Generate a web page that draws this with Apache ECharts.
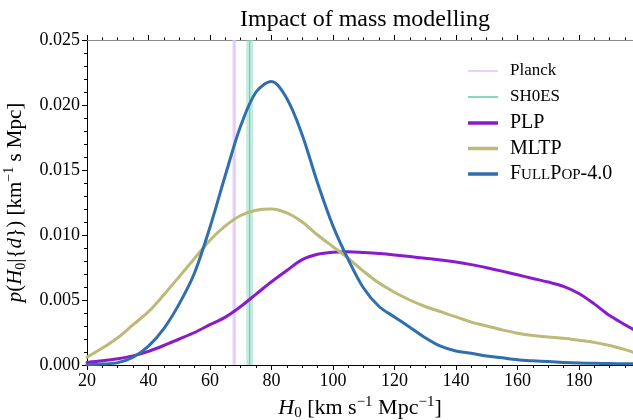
<!DOCTYPE html>
<html>
<head>
<meta charset="utf-8">
<script src="https://cdn.jsdelivr.net/npm/echarts@6/dist/echarts.min.js"></script>
<style>
  html, body { margin: 0; padding: 0; background: #ffffff; }
  #chart { width: 633px; height: 420px; }
</style>
</head>
<body>
<div id="chart"></div>
<script>
// H0 grid (km s^-1 Mpc^-1) on which the posteriors are sampled
const h0Values = [20, 25, 30, 35, 40, 45, 50, 55, 60, 65, 70, 75, 80, 85, 90, 95, 100,
  105, 110, 115, 120, 125, 130, 135, 140, 145, 150, 155, 160, 165, 170, 175, 180,
  185, 190, 195, 198];

// Posterior densities p(H0 | {d})
const plpPosterior = [0.0002, 0.00032, 0.00048, 0.0007, 0.00105, 0.0015, 0.0020, 0.0025,
  0.0031, 0.00368, 0.0045, 0.00545, 0.0064, 0.00727, 0.0081, 0.00852, 0.00868,
  0.00872, 0.00866, 0.00858, 0.00847, 0.00834, 0.00821, 0.00808, 0.00792, 0.00772, 0.00748,
  0.00722, 0.00694, 0.00666, 0.00638, 0.00605, 0.0055, 0.0047, 0.0038, 0.0031, 0.0027];

const mltpPosterior = [0.0006, 0.0013, 0.0021, 0.0031, 0.0041, 0.0054, 0.0068, 0.0082,
  0.0096, 0.0107, 0.0115, 0.0119, 0.0120, 0.0117, 0.0110, 0.0100, 0.0091,
  0.0082, 0.0072, 0.0063, 0.0056, 0.0050, 0.0045, 0.0041, 0.0037, 0.0033, 0.0030,
  0.0027, 0.00245, 0.00227, 0.00215, 0.00205, 0.0019, 0.00174, 0.0015, 0.00118, 0.00095];

const fullPopPosterior = [0.00002, 0.00007, 0.00018, 0.0006, 0.00145, 0.0028, 0.0047, 0.0071,
  0.0106, 0.0146, 0.0184, 0.0210, 0.0218, 0.0205, 0.0177, 0.0140, 0.0107,
  0.0081, 0.0059, 0.0045, 0.0037, 0.0029, 0.0021, 0.00145, 0.00108, 0.0009, 0.0007,
  0.00055, 0.0004, 0.00032, 0.00026, 0.0002, 0.00016, 0.00013, 0.00011, 0.0001, 0.0001];

// External H0 measurements: [mean, half-width]
const planckH0 = [67.9, 0.6];
const sh0esH0 = [72.9, 1.1];

// Axis ranges and ticks
const xRange = [20, 197.6];
const xTickStep = 20;
const yRange = [0, 0.025];
const yTickStep = 0.005;

const serif = 'Liberation Serif';

const pairs = (xs, ys) => xs.map((x, i) => [x, ys[i]]);

function bandSeries(name, meas, lineColor, bandColor) {
  return {
    name: name,
    type: 'line',
    data: [[meas[0], yRange[0]], [meas[0], yRange[1]]],
    symbol: 'none',
    silent: true,
    z: 1,
    lineStyle: { color: lineColor, width: 1 },
    itemStyle: { color: lineColor },
    markArea: {
      silent: true,
      itemStyle: { color: bandColor },
      data: [[{ xAxis: meas[0] - meas[1] }, { xAxis: meas[0] + meas[1] }]]
    }
  };
}

function curve(name, ys, color) {
  return {
    name: name,
    type: 'line',
    data: pairs(h0Values, ys),
    smooth: 0.33,
    symbol: 'none',
    z: 3,
    lineStyle: { color: color, width: 3, join: 'round', cap: 'round' },
    itemStyle: { color: color }
  };
}

const plpColor = '#8a1bcd';
const mltpColor = '#bdb977';
const fullPopColor = '#2f6fad';

const chart = echarts.init(document.getElementById('chart'), null, { renderer: 'canvas' });

chart.setOption({
  animation: false,
  backgroundColor: '#ffffff',
  title: {
    text: 'Impact of mass modelling',
    left: 360,
    textAlign: 'center',
    top: 3,
    textStyle: { fontFamily: serif, fontSize: 24, fontWeight: 'normal', color: '#000' }
  },
  grid: { left: 87, right: 0, top: 40, bottom: 55, outerBoundsMode: 'none' },
  legend: [
    {
      orient: 'vertical',
      left: 463,
      top: 56,
      itemWidth: 30,
      itemHeight: 1.5,
      itemGap: 6,
      icon: 'rect',
      selectedMode: false,
      textStyle: { fontFamily: serif, fontSize: 17, color: '#000', lineHeight: 20, padding: [0, 0, 0, 7] },
      data: ['Planck', 'SH0ES']
    },
    {
      orient: 'vertical',
      left: 463,
      top: 108,
      itemWidth: 30,
      itemHeight: 3.5,
      itemGap: 5.5,
      icon: 'rect',
      selectedMode: false,
      formatter: function (name) {
        if (name === 'FullPop-4.0') {
          return '{c|F}{s|ULL}{c|P}{s|OP}{c|-4.0}';
        }
        return name;
      },
      textStyle: {
        fontFamily: serif, fontSize: 20, color: '#000', lineHeight: 20, padding: [0, 0, 0, 7],
        rich: {
          c: { fontFamily: serif, fontSize: 20, lineHeight: 20, verticalAlign: 'bottom' },
          s: { fontFamily: serif, fontSize: 15, lineHeight: 20, verticalAlign: 'bottom', padding: [0, 0, 1, 0] }
        }
      },
      data: ['PLP', 'MLTP', 'FullPop-4.0']
    }
  ],
  xAxis: [
    {
      type: 'value',
      min: xRange[0],
      max: xRange[1],
      interval: xTickStep,
      position: 'bottom',
      name: '{i|H}{sub|0} [km s{sup|−1} Mpc{sup|−1}]',
      nameLocation: 'middle',
      nameGap: 27,
      nameTextStyle: {
        fontFamily: serif, fontSize: 22, color: '#000', lineHeight: 26,
        rich: {
          i: { fontFamily: serif, fontStyle: 'italic', fontSize: 22, lineHeight: 26 },
          sub: { fontFamily: serif, fontSize: 15, lineHeight: 14, verticalAlign: 'bottom' },
          sup: { fontFamily: serif, fontSize: 15, lineHeight: 16, verticalAlign: 'top' }
        }
      },
      splitLine: { show: false },
      axisLine: { onZero: false, lineStyle: { color: '#000', width: 1 } },
      axisTick: { inside: false, length: 5, lineStyle: { color: '#000', width: 1 } },
      minorTick: { show: true, splitNumber: 4, length: 3, lineStyle: { color: '#000', width: 1 } },
      axisLabel: {
        showMaxLabel: false,
        margin: 7,
        fontFamily: serif, fontSize: 18, color: '#000'
      }
    },
    {
      type: 'value',
      min: xRange[0],
      max: xRange[1],
      interval: xTickStep,
      position: 'top',
      splitLine: { show: false },
      axisLine: { onZero: false, lineStyle: { color: '#8c8c8c', width: 1 } },
      axisTick: { inside: false, length: 5, lineStyle: { color: '#000', width: 1 } },
      minorTick: { show: true, splitNumber: 4, length: 2.5, lineStyle: { color: '#000', width: 1 } },
      axisLabel: { show: false }
    }
  ],
  yAxis: {
    type: 'value',
    min: yRange[0],
    max: yRange[1],
    interval: yTickStep,
    name: '{i|p}({i|H}{sub|0}|{{i|d}}) [km{sup|−1} s Mpc]',
    nameLocation: 'middle',
    nameRotate: 90,
    nameGap: 39,
    nameTextStyle: {
      fontFamily: serif, fontSize: 21, color: '#000', lineHeight: 26,
      rich: {
        i: { fontFamily: serif, fontStyle: 'italic', fontSize: 21, lineHeight: 26 },
        sub: { fontFamily: serif, fontSize: 14, lineHeight: 14, verticalAlign: 'bottom' },
        sup: { fontFamily: serif, fontSize: 14, lineHeight: 16, verticalAlign: 'top' }
      }
    },
    splitLine: { show: false },
    axisLine: { show: true, onZero: false, lineStyle: { color: '#000', width: 1 } },
    axisTick: { show: true, inside: false, length: 5, lineStyle: { color: '#000', width: 1 } },
    minorTick: { show: true, splitNumber: 5, length: 3, lineStyle: { color: '#000', width: 1 } },
    axisLabel: {
      margin: 7,
      fontFamily: serif, fontSize: 18, color: '#000',
      formatter: function (v) { return v.toFixed(3); }
    }
  },
  series: [
    bandSeries('Planck', planckH0, '#dcc6f4', 'rgba(222, 204, 247, 0.7)'),
    bandSeries('SH0ES', sh0esH0, '#5fcca9', 'rgba(150, 222, 200, 0.6)'),
    curve('PLP', plpPosterior, plpColor),
    curve('MLTP', mltpPosterior, mltpColor),
    curve('FullPop-4.0', fullPopPosterior, fullPopColor)
  ]
});
</script>
</body>
</html>
